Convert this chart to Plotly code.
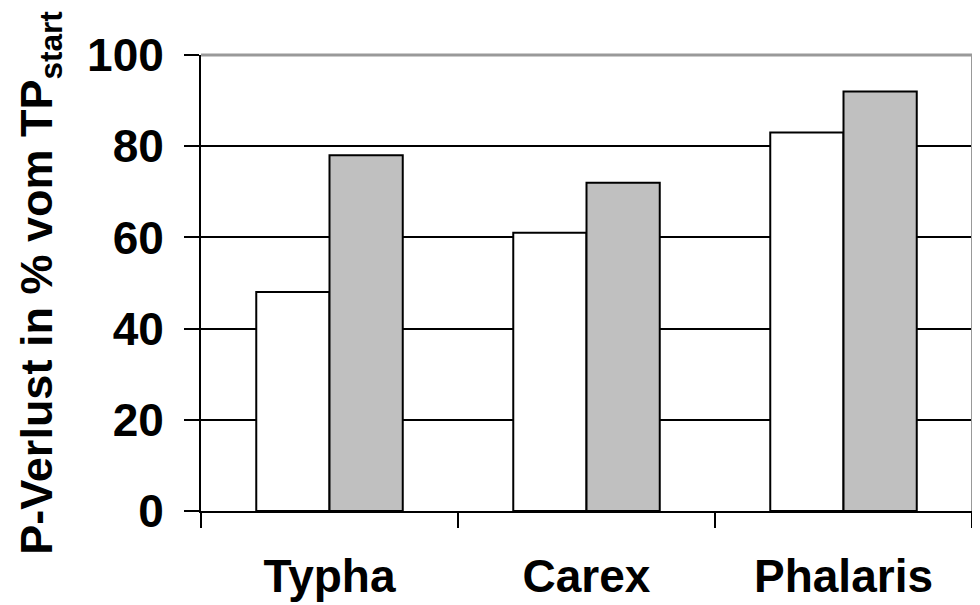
import plotly.graph_objects as go

categories = ["Typha", "Carex", "Phalaris"]
series_white = [48, 61, 83]
series_grey = [78, 72, 92]
y_ticks = [0, 20, 40, 60, 80, 100]

FONT = "Liberation Sans, Arial, sans-serif"

fig = go.Figure()
fig.add_trace(go.Bar(x=categories, y=series_white, name="A",
                     marker=dict(color="#FFFFFF", line=dict(color="#000000", width=2))))
fig.add_trace(go.Bar(x=categories, y=series_grey, name="B",
                     marker=dict(color="#C0C0C0", line=dict(color="#000000", width=2))))

# page body has an 8px default margin, so the figure is sized to fit the window
fig.update_layout(
    width=972, height=597,
    margin=dict(l=193, r=8, t=47, b=94, autoexpand=False),
    plot_bgcolor="#FFFFFF", paper_bgcolor="#FFFFFF",
    barmode="group", bargap=0.43, bargroupgap=0,
    showlegend=False,
    font=dict(family=FONT, size=46, color="#000000", weight="bold"),
)
fig.update_xaxes(
    type="category", showline=True, linecolor="#000000", linewidth=2,
    ticks="outside", tickson="boundaries", ticklen=15, tickwidth=2, tickcolor="#000000",
    showgrid=False, ticklabelstandoff=24, automargin=False,
    tickfont=dict(family=FONT, size=46, color="#000000", weight="bold"),
)
fig.update_yaxes(
    range=[0, 100], tickvals=y_ticks, ticktext=[str(v) for v in y_ticks],
    showline=True, linecolor="#000000", linewidth=2,
    ticks="outside", ticklen=15, tickwidth=2, tickcolor="#000000",
    showgrid=True, gridcolor="#000000", gridwidth=2,
    zeroline=False, ticklabelstandoff=11, automargin=False,
    tickfont=dict(family=FONT, size=46, color="#000000", weight="bold"),
    title=dict(text="P-Verlust in % vom TP<sub>start</sub>", standoff=20,
               font=dict(family=FONT, size=45, color="#000000", weight="bold")),
)
# gray plot-area border on top and right
fig.add_shape(type="line", xref="x domain", yref="y domain", x0=0, x1=1, y0=1, y1=1,
              line=dict(color="#999999", width=3), layer="above")
fig.add_shape(type="line", xref="x domain", yref="y domain", x0=1, x1=1, y0=0, y1=1,
              line=dict(color="#999999", width=2), layer="above")

fig.write_html("out.html")
